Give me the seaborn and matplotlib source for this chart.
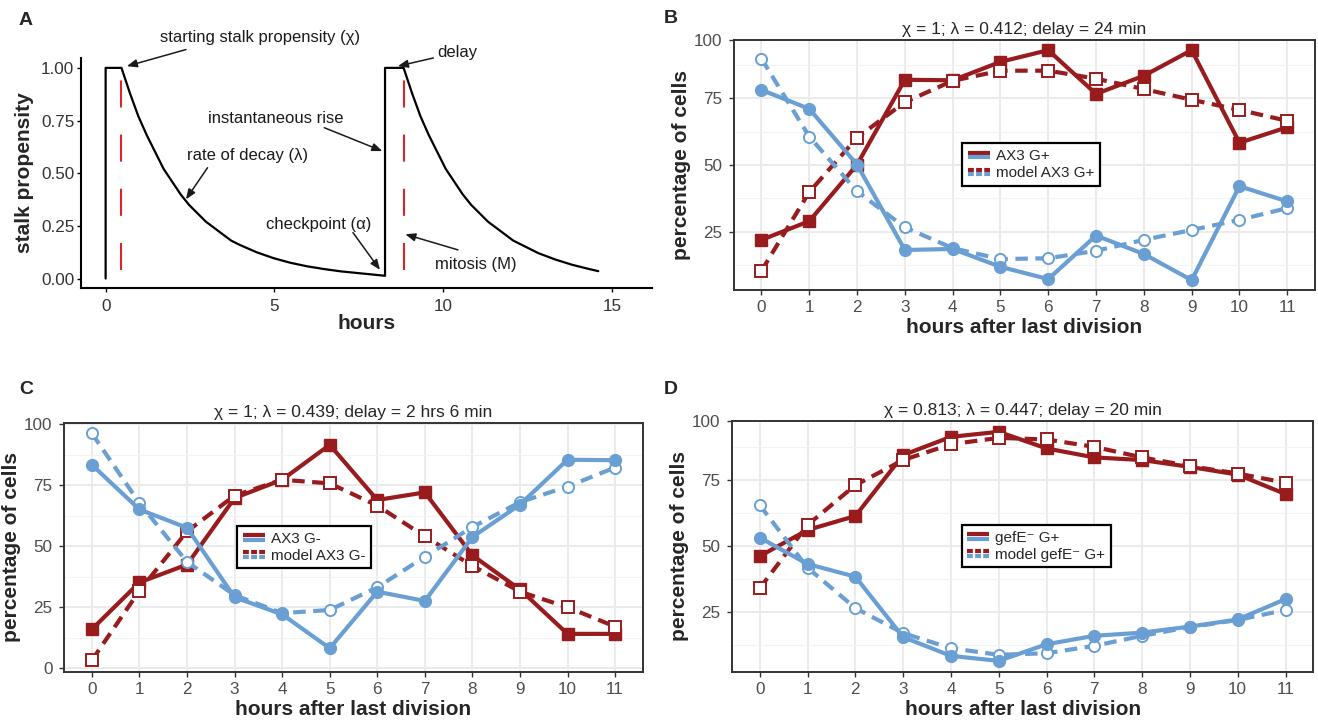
"""
Stalk propensity model (A) and model fits for three strains (B-D).
"""

import matplotlib
matplotlib.use("Agg")
import matplotlib.pyplot as plt
import pandas as pd
import seaborn as sns
from matplotlib.legend_handler import HandlerBase
from matplotlib.lines import Line2D
from matplotlib.ticker import FixedLocator

sns.set_theme(style="white")
plt.rcParams["font.family"] = ["Liberation Sans", "DejaVu Sans"]

RED = "#981B1E"
BLUE = "#6A9FD4"
MITOSIS_RED = "#D8262B"
TICK_GREY = "#4D4D4D"

# ---- panel A: one propensity trace ----
A_HOURS = [0, 0, 0.47, 0.72, 0.97, 1.22, 1.47, 1.72, 1.97, 2.22, 2.47, 2.72,
           2.97, 3.22, 3.47, 3.72, 3.97, 4.47, 4.97, 5.47, 5.97, 6.47, 6.97,
           7.47, 7.97, 8.28,
           8.28, 8.83, 9.08, 9.33, 9.58, 9.83, 10.08, 10.33, 10.58, 10.83,
           11.08, 11.33, 11.58, 11.83, 12.08, 12.33, 12.83, 13.33, 13.83,
           14.33, 14.6]
A_PROPENSITY = [0, 1, 1, 0.88, 0.77, 0.68, 0.60, 0.52, 0.46, 0.40, 0.35, 0.31,
                0.27, 0.24, 0.21, 0.18, 0.16, 0.125, 0.097, 0.075, 0.058,
                0.045, 0.034, 0.026, 0.018, 0.013,
                1, 1, 0.88, 0.77, 0.68, 0.60, 0.52, 0.46, 0.40, 0.35, 0.31,
                0.27, 0.24, 0.21, 0.18, 0.16, 0.12, 0.09, 0.065, 0.045, 0.035]
MITOSIS_HOURS = [0.47, 8.83]
MITOSIS_LOW, MITOSIS_HIGH = 0.04, 1.0

# text, text position, arrow tail, arrow head (data coords of panel A)
A_NOTES = [
    ("starting stalk propensity (χ)", (4.59, 1.142), (2.38, 1.087), (0.63, 1.008), "center"),
    ("delay", (9.84, 1.074), (9.71, 1.047), (8.66, 1.008), "left"),
    ("instantaneous rise", (5.05, 0.758), (6.48, 0.716), (8.20, 0.605), "center"),
    ("rate of decay (λ)", (4.20, 0.586), (3.02, 0.526), (2.38, 0.376), "center"),
    ("checkpoint (α)", (6.32, 0.257), (7.33, 0.218), (8.13, 0.041), "center"),
    ("mitosis (M)", (10.96, 0.065), (10.44, 0.136), (8.88, 0.210), "center"),
]

# ---- panels B-D: percentage of cells per hour after last division ----
HOURS = list(range(12))

B_TITLE = "χ = 1; λ = 0.412; delay = 24 min"
B_RED_DATA = [21.9, 28.9, 50.1, 81.9, 81.7, 88.6, 93.0, 76.6, 83.4, 93.0, 58.3, 64.1]
B_RED_MODEL = [10.3, 39.8, 60.2, 73.5, 81.5, 85.3, 85.3, 82.3, 78.4, 74.4, 70.6, 66.5]
B_BLUE_DATA = [78.1, 71.0, 50.1, 18.1, 18.5, 11.8, 7.2, 23.5, 16.6, 6.8, 42.0, 36.3]
B_BLUE_MODEL = [89.8, 60.6, 40.1, 26.6, 18.8, 14.7, 15.0, 17.8, 21.9, 25.6, 29.4, 33.8]
B_LABELS = ["AX3 G+", "model AX3 G+"]

C_TITLE = "χ = 1; λ = 0.439; delay = 2 hrs 6 min"
C_RED_DATA = [16.0, 35.2, 42.5, 69.8, 77.3, 91.6, 69.0, 72.1, 46.3, 32.3, 14.1, 14.1]
C_RED_MODEL = [3.3, 31.8, 56.1, 70.8, 77.3, 75.8, 66.7, 54.1, 42.0, 31.4, 25.0, 17.1]
C_BLUE_DATA = [83.4, 65.1, 57.6, 29.1, 22.1, 8.2, 31.4, 27.6, 53.8, 67.1, 85.5, 85.3]
C_BLUE_MODEL = [96.3, 67.7, 43.6, 30.0, 22.6, 23.9, 33.2, 45.7, 57.9, 68.1, 74.5, 82.3]
C_LABELS = ["AX3 G-", "model AX3 G-"]

D_TITLE = "χ = 0.813; λ = 0.447; delay = 20 min"
D_RED_DATA = [46.2, 56.1, 61.4, 84.5, 91.4, 93.3, 87.0, 83.6, 82.6, 80.0, 77.1, 69.7]
D_RED_MODEL = [34.0, 58.0, 73.1, 82.6, 88.6, 91.0, 90.4, 87.6, 83.6, 80.3, 77.5, 74.0]
D_BLUE_DATA = [53.2, 43.2, 38.4, 15.5, 8.4, 6.5, 12.8, 16.0, 17.2, 19.5, 22.2, 29.9]
D_BLUE_MODEL = [65.5, 41.8, 26.5, 17.0, 11.3, 8.8, 9.4, 12.2, 16.0, 19.3, 22.0, 25.8]
D_LABELS = ["gefE⁻ G+", "model gefE⁻ G+"]

MINOR_Y = [12.5, 37.5, 62.5, 87.5]


class LegendKey:
    """Legend entry drawn as a red bar stacked on a blue bar."""

    def __init__(self, dashed):
        self.dashed = dashed


class PairHandler(HandlerBase):
    def create_artists(self, legend, orig_handle, xdescent, ydescent,
                       width, height, fontsize, trans):
        x0, x1 = -xdescent, width - xdescent
        yc = height / 2 - ydescent
        ls = (0, (1.4, 0.55)) if orig_handle.dashed else "-"
        artists = []
        for dy, col in ((1.5, RED), (-1.5, BLUE)):
            artists.append(Line2D([x0, x1], [yc + dy, yc + dy], color=col, lw=3,
                                  linestyle=ls, solid_capstyle="butt",
                                  dash_capstyle="butt", transform=trans))
        return artists


def draw_series(ax, values, color, marker, model):
    df = pd.DataFrame({"hour": HOURS, "pct": values})
    if model:
        sns.lineplot(data=df, x="hour", y="pct", ax=ax, color=color, lw=3,
                     linestyle=(0, (3, 1.8)), dash_capstyle="butt",
                     marker=marker, markersize=8, markerfacecolor="white",
                     markeredgecolor=color, markeredgewidth=1.4)
    else:
        sns.lineplot(data=df, x="hour", y="pct", ax=ax, color=color, lw=3,
                     solid_capstyle="butt", marker=marker, markersize=8.5,
                     markerfacecolor=color, markeredgecolor=color,
                     markeredgewidth=1)


def plot_propensity(fig):
    ax = fig.add_axes([0.0612, 0.6011, 0.4332, 0.3186])
    sns.lineplot(x=A_HOURS, y=A_PROPENSITY, estimator=None, sort=False,
                 color="black", lw=1.6, ax=ax)
    ax.vlines(MITOSIS_HOURS, MITOSIS_LOW, MITOSIS_HIGH, colors=MITOSIS_RED,
              linestyles=[(0, (13, 13))], lw=1.5)

    for text, pos, tail, head, ha in A_NOTES:
        ax.text(pos[0], pos[1], text, ha=ha, va="center", fontsize=12,
                color="#1a1a1a", clip_on=False)
        ax.annotate("", xy=head, xytext=tail, annotation_clip=False,
                    arrowprops=dict(arrowstyle="-|>,head_length=0.5,head_width=0.2",
                                    color="#1a1a1a", lw=1.1,
                                    shrinkA=0, shrinkB=0))

    ax.set_xlim(-0.74, 16.18)
    ax.set_ylim(-0.045, 1.047)
    ax.set_xticks([0, 5, 10, 15])
    ax.set_yticks([0, 0.25, 0.5, 0.75, 1.0],
                  ["0.00", "0.25", "0.50", "0.75", "1.00"])
    for side in ("top", "right"):
        ax.spines[side].set_visible(False)
    for side in ("left", "bottom"):
        ax.spines[side].set_color("black")
        ax.spines[side].set_linewidth(1.5)
    ax.tick_params(bottom=True, left=True, length=3, width=1, color="black",
                   labelsize=12.3, labelcolor="#333333")
    ax.tick_params(axis="x", pad=5)
    ax.tick_params(axis="y", pad=1.5)
    ax.set_xlabel("hours", fontsize=15, fontweight="bold", labelpad=0)
    ax.set_ylabel("stalk propensity", fontsize=15, fontweight="bold", labelpad=5)


def plot_fit(fig, rect, title, red_data, red_model, blue_data, blue_model,
             labels, ylim, yticks, yticklabels, legend_at):
    ax = fig.add_axes(rect)
    draw_series(ax, red_data, RED, "s", model=False)
    draw_series(ax, red_model, RED, "s", model=True)
    draw_series(ax, blue_model, BLUE, "o", model=True)
    draw_series(ax, blue_data, BLUE, "o", model=False)

    ax.set_xlim(-0.58, 11.58)
    ax.set_ylim(*ylim)
    ax.set_xticks(HOURS)
    ax.set_yticks(yticks, yticklabels)
    ax.yaxis.set_minor_locator(FixedLocator(MINOR_Y))
    ax.grid(which="major", color="#EBEBEB", lw=1.4)
    ax.grid(which="minor", axis="y", color="#F3F3F3", lw=0.8)
    ax.set_axisbelow(True)
    for spine in ax.spines.values():
        spine.set_visible(True)
        spine.set_color("#333333")
        spine.set_linewidth(1.4)
    ax.tick_params(which="minor", length=0)
    ax.tick_params(which="major", bottom=True, left=True, length=3.5, width=1,
                   color="#333333", labelsize=12.3, labelcolor=TICK_GREY)
    ax.tick_params(axis="x", pad=4)
    ax.tick_params(axis="y", pad=5)
    ax.set_xlabel("hours after last division", fontsize=15, fontweight="bold",
                  labelpad=2)
    ax.set_ylabel("percentage of cells", fontsize=15, fontweight="bold",
                  labelpad=2)
    ax.set_title(title, fontsize=12.5, pad=4)

    leg = ax.legend(handles=[LegendKey(False), LegendKey(True)], labels=labels,
                    handler_map={LegendKey: PairHandler()}, loc="center",
                    bbox_to_anchor=legend_at, bbox_transform=fig.transFigure,
                    frameon=True, fancybox=False, framealpha=1,
                    edgecolor="black", fontsize=11, handlelength=1.45,
                    handleheight=0.9, borderpad=0.35, labelspacing=0.15,
                    handletextpad=0.4, borderaxespad=0)
    leg.get_frame().set_linewidth(1.6)


def main():
    fig = plt.figure(figsize=(13.18, 7.22), dpi=100)

    plot_propensity(fig)
    plot_fit(fig, [0.5567, 0.5983, 0.4410, 0.3463], B_TITLE,
             B_RED_DATA, B_RED_MODEL, B_BLUE_DATA, B_BLUE_MODEL, B_LABELS,
             (3.1, 96.8), [25, 50, 75, 96.8], ["25", "50", "75", "100"],
             (0.7823, 0.7722))
    plot_fit(fig, [0.0488, 0.0697, 0.4388, 0.3449], C_TITLE,
             C_RED_DATA, C_RED_MODEL, C_BLUE_DATA, C_BLUE_MODEL, C_LABELS,
             (-1.4, 100.7), [0, 25, 50, 75, 100], ["0", "25", "50", "75", "100"],
             (0.2307, 0.2424))
    plot_fit(fig, [0.5554, 0.0693, 0.4410, 0.3476], D_TITLE,
             D_RED_DATA, D_RED_MODEL, D_BLUE_DATA, D_BLUE_MODEL, D_LABELS,
             (2.3, 97.4), [25, 50, 75, 97.4], ["25", "50", "75", "100"],
             (0.7861, 0.2438))

    for letter, x, y in (("A", 19, 12), ("B", 664, 10), ("C", 19, 381), ("D", 664, 381)):
        fig.text(x / 1318, 1 - y / 722, letter, ha="left", va="top",
                 fontsize=14, fontweight="bold")

    fig.savefig("out.png", dpi=100)
    plt.close(fig)


if __name__ == "__main__":
    main()
